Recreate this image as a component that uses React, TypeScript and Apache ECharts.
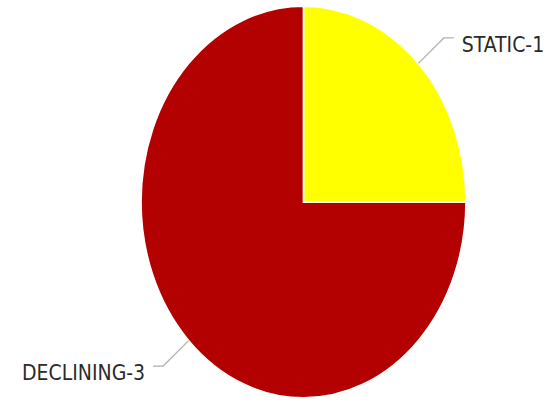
import React, { useEffect, useRef } from "react";
import * as echarts from "echarts";

// Data
const names: string[] = ["STATIC", "DECLINING"];
const counts: number[] = [1, 3];
const sliceColors: string[] = ["#ffff00", "#b30000"];

// Layout constants
const CENTER_X = 303.5;
const CENTER_Y = 202;
const RADIUS_X = 162.5;
const RADIUS_Y = 196;
const LINE1 = 36;
const LINE2 = 10;

export default function App() {
  const ref = useRef<HTMLDivElement>(null);

  useEffect(() => {
    if (!ref.current) return;
    const chart = echarts.init(ref.current, null, { renderer: "svg" });
    const total = counts.reduce((a, b) => a + b, 0);
    const cum: number[] = [];
    counts.reduce((acc, v, i) => {
      cum[i] = acc;
      return acc + v;
    }, 0);

    const renderItem = (params: any, api: any) => {
      const i = params.dataIndex;
      const v = api.value(0);
      const start = -Math.PI / 2 + (2 * Math.PI * cum[i]) / total;
      const end = start + (2 * Math.PI * v) / total;
      const mid = (start + end) / 2;
      const c = Math.cos(mid);
      const s = Math.sin(mid);
      const p0 = [CENTER_X + RADIUS_X * c, CENTER_Y + RADIUS_Y * s];
      const p1 = [p0[0] + LINE1 * c, p0[1] + LINE1 * s];
      const dir = c >= 0 ? 1 : -1;
      const p2 = [p1[0] + LINE2 * dir, p1[1]];
      return {
        type: "group",
        children: [
          {
            type: "sector",
            x: CENTER_X,
            y: CENTER_Y,
            scaleX: RADIUS_X / RADIUS_Y,
            shape: {
              cx: 0,
              cy: 0,
              r0: 0,
              r: RADIUS_Y,
              startAngle: start,
              endAngle: end,
              clockwise: true,
            },
            style: { fill: sliceColors[i], stroke: "#ffffff", lineWidth: 2 },
          },
          {
            type: "polyline",
            shape: { points: [p0, p1, p2] },
            style: { stroke: "#b0b0b0", lineWidth: 1.2, fill: "none" },
          },
          {
            type: "text",
            x: p2[0] + dir * 8,
            y: p2[1] + 7,
            style: {
              text: `${names[i]}-${v}`,
              fill: "#2a2a2a",
              font: '21px "DejaVu Sans Condensed", "DejaVu Sans"',
              align: dir > 0 ? "left" : "right",
              verticalAlign: "middle",
            },
          },
        ],
      };
    };

    chart.setOption({
      animation: false,
      backgroundColor: "#ffffff",
      series: [
        {
          type: "custom",
          coordinateSystem: "none",
          renderItem,
          data: counts.map((v, i) => ({ name: names[i], value: [v] })),
        },
      ],
    });
    return () => chart.dispose();
  }, []);

  return (
    <div
      ref={ref}
      style={{ position: "absolute", left: 0, top: 0, width: 559, height: 404 }}
    />
  );
}
